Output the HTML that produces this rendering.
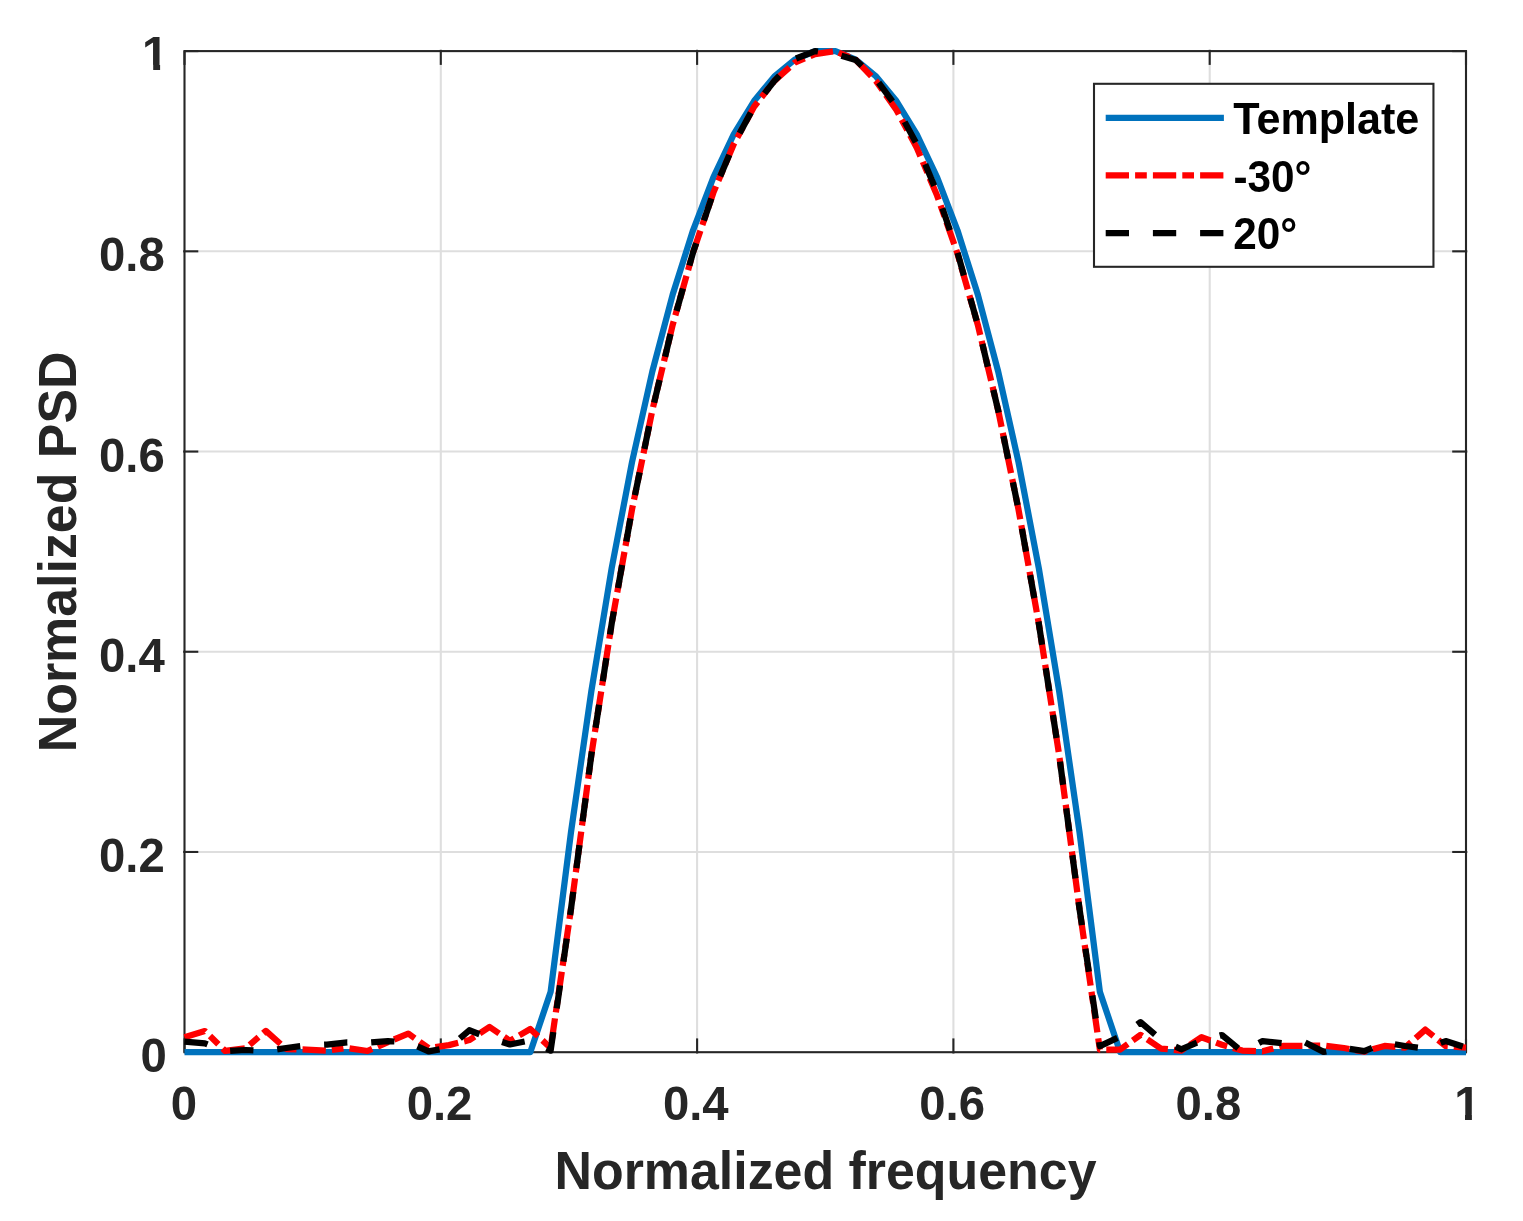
<!DOCTYPE html>
<html lang="en"><head><meta charset="utf-8"><title>Normalized PSD</title>
<style>html,body{margin:0;padding:0;background:#fff;overflow:hidden}svg{display:block}text{font-family:"Liberation Sans",sans-serif;font-weight:bold}</style></head><body>
<svg width="1523" height="1221" viewBox="0 0 1523 1221">
<rect width="1523" height="1221" fill="#fff"/>
<g stroke="#dedede" stroke-width="2.08" fill="none">
<line x1="440.80" y1="51.1" x2="440.80" y2="1052.2"/>
<line x1="184.5" y1="851.98" x2="1466.0" y2="851.98"/>
<line x1="697.10" y1="51.1" x2="697.10" y2="1052.2"/>
<line x1="184.5" y1="651.76" x2="1466.0" y2="651.76"/>
<line x1="953.40" y1="51.1" x2="953.40" y2="1052.2"/>
<line x1="184.5" y1="451.54" x2="1466.0" y2="451.54"/>
<line x1="1209.70" y1="51.1" x2="1209.70" y2="1052.2"/>
<line x1="184.5" y1="251.32" x2="1466.0" y2="251.32"/>
</g>
<g stroke="#262626" stroke-width="2.1" fill="none" stroke-linecap="square">
<rect x="184.5" y="51.1" width="1281.5" height="1001.1"/>
</g>
<g stroke="#262626" stroke-width="2.1" fill="none">
<line x1="184.50" y1="1052.6000000000001" x2="184.50" y2="1038.40"/>
<line x1="184.50" y1="50.7" x2="184.50" y2="64.90"/>
<line x1="184.1" y1="1052.20" x2="198.30" y2="1052.20"/>
<line x1="1466.4" y1="1052.20" x2="1452.20" y2="1052.20"/>
<line x1="440.80" y1="1053.5" x2="440.80" y2="1038.40"/>
<line x1="440.80" y1="49.800000000000004" x2="440.80" y2="64.90"/>
<line x1="183.2" y1="851.98" x2="198.30" y2="851.98"/>
<line x1="1467.3" y1="851.98" x2="1452.20" y2="851.98"/>
<line x1="697.10" y1="1053.5" x2="697.10" y2="1038.40"/>
<line x1="697.10" y1="49.800000000000004" x2="697.10" y2="64.90"/>
<line x1="183.2" y1="651.76" x2="198.30" y2="651.76"/>
<line x1="1467.3" y1="651.76" x2="1452.20" y2="651.76"/>
<line x1="953.40" y1="1053.5" x2="953.40" y2="1038.40"/>
<line x1="953.40" y1="49.800000000000004" x2="953.40" y2="64.90"/>
<line x1="183.2" y1="451.54" x2="198.30" y2="451.54"/>
<line x1="1467.3" y1="451.54" x2="1452.20" y2="451.54"/>
<line x1="1209.70" y1="1053.5" x2="1209.70" y2="1038.40"/>
<line x1="1209.70" y1="49.800000000000004" x2="1209.70" y2="64.90"/>
<line x1="183.2" y1="251.32" x2="198.30" y2="251.32"/>
<line x1="1467.3" y1="251.32" x2="1452.20" y2="251.32"/>
<line x1="1466.00" y1="1052.6000000000001" x2="1466.00" y2="1038.40"/>
<line x1="1466.00" y1="50.7" x2="1466.00" y2="64.90"/>
<line x1="184.1" y1="51.10" x2="198.30" y2="51.10"/>
<line x1="1466.4" y1="51.10" x2="1452.20" y2="51.10"/>
</g>
<g fill="none" stroke-width="6.25" stroke-linejoin="round" stroke-linecap="butt">
<path stroke="#0072BD" d="M184.50,1052.20 L204.84,1052.20 L225.18,1052.20 L245.52,1052.20 L265.87,1052.20 L286.21,1052.20 L306.55,1052.20 L326.89,1052.20 L347.23,1052.20 L367.57,1052.20 L387.91,1052.20 L408.25,1052.20 L428.60,1052.20 L448.94,1052.20 L469.28,1052.20 L489.62,1052.20 L509.96,1052.20 L530.30,1052.20 L550.64,991.73 L570.98,832.27 L591.33,691.28 L611.67,568.24 L632.01,462.06 L652.35,371.33 L672.69,294.55 L693.03,230.29 L713.37,177.27 L733.71,134.45 L754.06,101.02 L774.40,76.39 L794.74,59.61 L815.08,51.10 L835.42,51.10 L855.76,59.61 L876.10,76.39 L896.44,101.02 L916.79,134.45 L937.13,177.27 L957.47,230.29 L977.81,294.55 L998.15,371.33 L1018.49,462.06 L1038.83,568.24 L1059.17,691.28 L1079.52,832.27 L1099.86,991.73 L1120.20,1052.20 L1140.54,1052.20 L1160.88,1052.20 L1181.22,1052.20 L1201.56,1052.20 L1221.90,1052.20 L1242.25,1052.20 L1262.59,1052.20 L1282.93,1052.20 L1303.27,1052.20 L1323.61,1052.20 L1343.95,1052.20 L1364.29,1052.20 L1384.63,1052.20 L1404.98,1052.20 L1425.32,1052.20 L1445.66,1052.20 L1466.00,1052.20"/>
<path stroke="#FF0000" stroke-dasharray="23.3 6.09 11.7 6.08" stroke-dashoffset="1" d="M184.50,1037.15 L204.84,1031.10 L225.18,1050.90 L245.52,1048.35 L265.87,1030.88 L286.21,1049.01 L306.55,1049.60 L326.89,1050.60 L347.23,1048.00 L367.57,1051.00 L387.91,1042.09 L408.25,1033.58 L428.60,1048.12 L448.94,1045.14 L469.28,1040.09 L489.62,1026.97 L509.96,1040.79 L530.30,1028.97 L550.64,1048.00 L570.98,909.03 L591.33,755.11 L611.67,623.66 L632.01,509.44 L652.35,410.19 L672.69,324.82 L693.03,252.55 L713.37,192.65 L733.71,144.30 L754.06,106.71 L774.40,80.93 L794.74,62.61 L815.08,54.10 L835.42,51.10 L855.76,59.91 L876.10,81.17 L896.44,110.01 L916.79,147.80 L937.13,195.65 L957.47,253.56 L977.81,324.82 L998.15,410.19 L1018.49,509.44 L1038.83,623.66 L1059.17,755.11 L1079.52,909.03 L1099.86,1049.60 L1120.20,1049.57 L1140.54,1034.89 L1160.88,1048.52 L1181.22,1050.60 L1201.56,1037.23 L1221.90,1044.75 L1242.25,1050.60 L1262.59,1051.30 L1282.93,1045.99 L1303.27,1045.79 L1323.61,1045.59 L1343.95,1048.00 L1364.29,1051.70 L1384.63,1045.99 L1404.98,1047.59 L1425.32,1029.59 L1445.66,1045.99 L1466.00,1047.59"/>
<path stroke="#000000" stroke-dasharray="23.3 23.912" d="M184.50,1041.59 L204.84,1043.39 L225.18,1051.25 L245.52,1050.00 L265.87,1051.05 L286.21,1048.00 L306.55,1045.39 L326.89,1044.59 L347.23,1042.39 L367.57,1042.79 L387.91,1041.09 L408.25,1042.39 L428.60,1051.30 L448.94,1047.70 L469.28,1030.28 L489.62,1038.18 L509.96,1044.49 L530.30,1040.39 L550.64,1050.60 L570.98,909.03 L591.33,755.11 L611.67,623.66 L632.01,509.44 L652.35,410.19 L672.69,324.82 L693.03,252.55 L713.37,192.65 L733.71,144.30 L754.06,106.71 L774.40,80.93 L794.74,59.01 L815.08,51.10 L835.42,53.90 L855.76,59.91 L876.10,79.17 L896.44,106.71 L916.79,144.30 L937.13,192.65 L957.47,252.55 L977.81,324.82 L998.15,410.19 L1018.49,509.44 L1038.83,623.66 L1059.17,755.11 L1079.52,909.03 L1099.86,1046.05 L1120.20,1036.63 L1140.54,1022.14 L1160.88,1039.59 L1181.22,1049.30 L1201.56,1040.59 L1221.90,1035.03 L1242.25,1051.60 L1262.59,1041.09 L1282.93,1043.19 L1303.27,1041.59 L1323.61,1051.90 L1343.95,1047.90 L1364.29,1051.20 L1384.63,1042.49 L1404.98,1045.99 L1425.32,1048.60 L1445.66,1041.09 L1466.00,1047.59"/>
</g>
<g fill="#262626" font-size="47.3">
<text transform="translate(184.00,1119.9) scale(1,1.028)" text-anchor="middle">0</text>
<text transform="translate(166.9,1072.30) scale(1,1.028)" text-anchor="end">0</text>
<text transform="translate(439.50,1119.9) scale(1,1.028)" text-anchor="middle">0.2</text>
<text transform="translate(164.8,872.08) scale(1,1.028)" text-anchor="end">0.2</text>
<text transform="translate(695.80,1119.9) scale(1,1.028)" text-anchor="middle">0.4</text>
<text transform="translate(164.8,671.86) scale(1,1.028)" text-anchor="end">0.4</text>
<text transform="translate(952.10,1119.9) scale(1,1.028)" text-anchor="middle">0.6</text>
<text transform="translate(164.8,471.64) scale(1,1.028)" text-anchor="end">0.6</text>
<text transform="translate(1208.40,1119.9) scale(1,1.028)" text-anchor="middle">0.8</text>
<text transform="translate(164.8,271.42) scale(1,1.028)" text-anchor="end">0.8</text>
<text transform="translate(1467.50,1119.7) scale(1,1.036)" text-anchor="middle">1</text>
<text transform="translate(168.4,70.10) scale(1,1.036)" text-anchor="end">1</text>
</g>
<g fill="#fff">
<rect x="138" y="64.8" width="15.2" height="8"/><rect x="160.1" y="64.8" width="10" height="8"/>
<rect x="1450" y="1114.4" width="15.0" height="8"/><rect x="1471.9" y="1114.4" width="10" height="8"/>
</g>
<g fill="#262626" font-size="51.9">
<text transform="translate(825.5,1189.2) scale(1,1.034)" text-anchor="middle">Normalized frequency</text>
<text transform="translate(76.3,551.9) rotate(-90) scale(1,1.034)" text-anchor="middle">Normalized PSD</text>
</g>
<rect x="1094" y="83.8" width="339.45" height="183" fill="#fff" stroke="#262626" stroke-width="2.08"/>
<g fill="none" stroke-width="6.25">
<line x1="1105.7" y1="117.8" x2="1223.9" y2="117.8" stroke="#0072BD"/>
<line x1="1105.7" y1="175.3" x2="1223.9" y2="175.3" stroke="#FF0000" stroke-dasharray="23.3 6.1 11.7 6.1"/>
<line x1="1105.7" y1="233" x2="1223.9" y2="233" stroke="#000" stroke-dasharray="23.3 23.9"/>
</g>
<g fill="#000" font-size="43.1">
<text transform="translate(1233.3,134.3) scale(1,1.03)">Template</text>
<text transform="translate(1233.5,192.1) scale(1,1.05)" font-size="42.3">-30°</text>
<text transform="translate(1233.3,249) scale(1,1.05)" font-size="42.3">20°</text>
</g>
</svg></body></html>
